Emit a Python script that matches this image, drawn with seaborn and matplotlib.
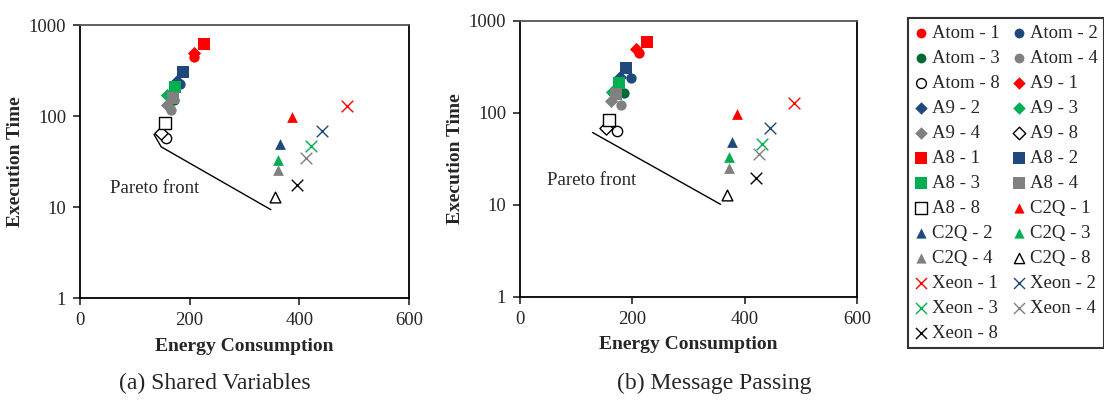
import matplotlib
matplotlib.use("Agg")
import matplotlib.pyplot as plt
import seaborn as sns
import pandas as pd

# series names, in the order of the legend (row by row)
series = ["Atom - 1", "Atom - 2", "Atom - 3", "Atom - 4", "Atom - 8",
          "A9 - 1", "A9 - 2", "A9 - 3", "A9 - 4", "A9 - 8",
          "A8 - 1", "A8 - 2", "A8 - 3", "A8 - 4", "A8 - 8",
          "C2Q - 1", "C2Q - 2", "C2Q - 3", "C2Q - 4", "C2Q - 8",
          "Xeon - 1", "Xeon - 2", "Xeon - 3", "Xeon - 4", "Xeon - 8"]

# (a) shared variables
shared_energy = [207, 183, 171, 166, 157, 207, 177, 158, 159, 147,
                 227, 187, 173, 170, 155, 386, 365, 361, 361, 355,
                 487, 441, 422, 412, 396]
shared_time = [449, 225, 150, 116, 58, 489, 245, 170, 132, 65,
               614, 307, 207, 160, 83, 97, 50, 33, 25.5, 12.8,
               130, 69, 47, 35, 17.5]

# (b) message passing
msg_energy = [211, 197, 186, 180, 173, 206, 178, 163, 162, 154,
              226, 188, 176, 171, 158, 386, 377, 372, 372, 369,
              488, 445, 430, 425, 421]
msg_time = [443, 237, 163, 121, 64, 492, 246, 169, 135, 68,
            586, 308, 212, 160, 83, 97, 48, 33, 25, 12.7,
            128, 68, 46, 35.6, 19.4]

# hand drawn pareto front lines
shared_pareto_x = [135, 148, 348]
shared_pareto_y = [63, 46, 9.4]
msg_pareto_x = [129, 357]
msg_pareto_y = [61, 10.1]

x_ticks = [0, 200, 400, 600]
y_ticks = [1, 10, 100, 1000]

# styles
core_colors = {"1": "#FF0000", "2": "#1F497D", "3": "#00B050", "4": "#808080", "8": "black"}
cpu_markers = {"Atom": "o", "A9": "D", "A8": "s", "C2Q": "^", "Xeon": "x"}
cpu_sizes = {"Atom": 55, "A9": 45, "A8": 72, "C2Q": 60, "Xeon": 70}

sns.set_style("white")
plt.rcParams["font.family"] = ["Liberation Serif", "DejaVu Serif"]

fig = plt.figure(figsize=(11.04, 4.03), dpi=100)
ax1 = fig.add_axes([80 / 1104, 1 - 298.3 / 403, 329 / 1104, 273.3 / 403])
ax2 = fig.add_axes([520 / 1104, 1 - 296.7 / 403, 337 / 1104, 276 / 403])


def draw(ax, energy, time, px, py, text_x, text_y):
    df = pd.DataFrame({"series": series, "energy": energy, "time": time})
    ax.plot(px, py, color="black", lw=1.0, zorder=1)
    for _, row in df.iterrows():
        cpu, cores = row["series"].split(" - ")
        m = cpu_markers[cpu]
        c = core_colors[cores]
        if m == "x":
            kw = dict(color=c, linewidth=1.0)
        elif cores == "8":
            kw = dict(facecolor="white", edgecolor="black", linewidth=1.0)
        else:
            if cpu == "Atom" and cores == "3":
                c = "#006A35"
            kw = dict(color=c, linewidth=0)
        sns.scatterplot(x=[row["energy"]], y=[row["time"]], marker=m,
                        s=cpu_sizes[cpu], ax=ax, label=row["series"],
                        zorder=3, **kw)
    if ax.get_legend() is not None:
        ax.get_legend().remove()
    ax.text(text_x, text_y, "Pareto front", fontsize=13.5, va="center", ha="left")
    ax.set_yscale("log")
    ax.set_xlim(0, 600)
    ax.set_ylim(1, 1000)
    ax.set_xticks(x_ticks)
    ax.set_xticklabels([str(v) for v in x_ticks])
    ax.set_yticks(y_ticks)
    ax.set_yticklabels([str(v) for v in y_ticks])
    ax.minorticks_off()
    ax.tick_params(axis="both", direction="out", length=5, width=1.2,
                   labelsize=13.5, pad=5, bottom=True, left=True)
    ax.set_xlabel("Energy Consumption", fontsize=14, fontweight="bold", labelpad=6)
    ax.set_ylabel("Execution Time", fontsize=14, fontweight="bold", labelpad=3)
    for sp in ax.spines.values():
        sp.set_visible(True)
        sp.set_color("black")
        sp.set_linewidth(1.3)
    ax.spines["top"].set_color("#555555")
    ax.grid(False)


draw(ax1, shared_energy, shared_time, shared_pareto_x, shared_pareto_y, 54, 16)
draw(ax2, msg_energy, msg_time, msg_pareto_x, msg_pareto_y, 48, 18.5)

fig.text(215 / 1104, 1 - 383 / 403, "(a) Shared Variables", ha="center", va="center", fontsize=17)
fig.text(714 / 1104, 1 - 383 / 403, "(b) Message Passing", ha="center", va="center", fontsize=17)

# legend, filled row by row
handles, labels = ax1.get_legend_handles_labels()
order = list(range(0, 25, 2)) + list(range(1, 25, 2))
leg = fig.legend([handles[i] for i in order], [labels[i] for i in order],
                 loc="upper left", bbox_to_anchor=(908 / 1104, 1 - 18 / 403),
                 ncol=2, frameon=True, fancybox=False, edgecolor="black",
                 fontsize=13.5, handlelength=0.7, handletextpad=0.25,
                 columnspacing=0.65, labelspacing=0.42, borderpad=0.35,
                 borderaxespad=0, markerscale=0.95, scatterpoints=1)
leg.get_frame().set_linewidth(1.5)

fig.savefig("out.png", dpi=100)
